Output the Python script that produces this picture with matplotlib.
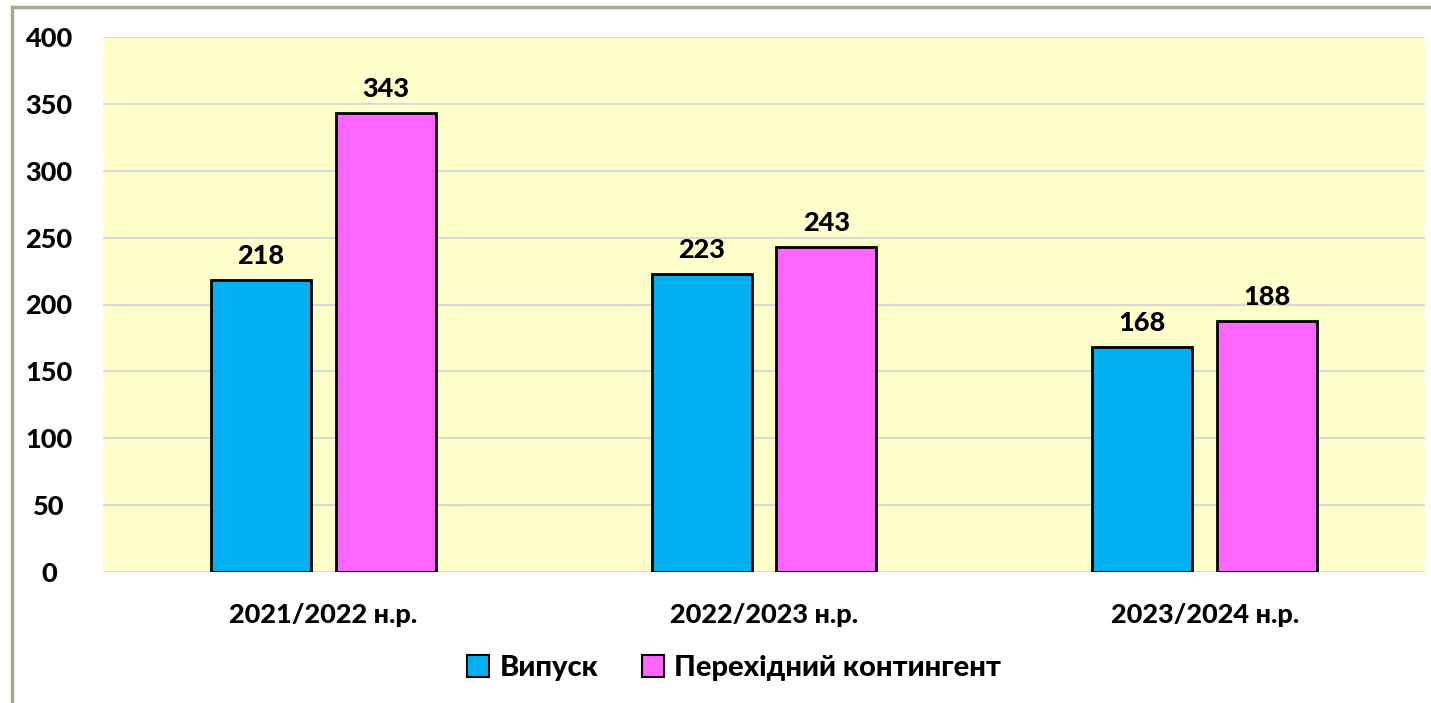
import numpy as np
import matplotlib.pyplot as plt
from matplotlib.patches import Patch
from matplotlib.lines import Line2D

categories = ['2021/2022 н.р.', '2022/2023 н.р.', '2023/2024 н.р.']
vypusk = [218, 223, 168]
perehidnyi = [343, 243, 188]
series_names = ['Випуск', 'Перехідний контингент']
yticks = [0, 50, 100, 150, 200, 250, 300, 350, 400]

plt.rcParams['font.family'] = ['Lato', 'DejaVu Sans']
FW = 'black'
FS = 19.5

W, H = 1431, 703
fig = plt.figure(figsize=(W / 100, H / 100), dpi=100)
ax = fig.add_axes([103 / W, 1 - 572 / H, 1322 / W, (572 - 37) / H])

x = np.arange(len(categories))
bw = 100 / 440.7
off = 62.5 / 440.7
b1 = ax.bar(x - off, vypusk, bw, color='#00B0F0', edgecolor='black', linewidth=2, zorder=3)
b2 = ax.bar(x + off, perehidnyi, bw, color='#FF66FF', edgecolor='black', linewidth=2, zorder=3)

for bars, vals in ((b1, vypusk), (b2, perehidnyi)):
    for r, v in zip(bars, vals):
        ax.text(r.get_x() + r.get_width() / 2, v + 9, str(v), ha='center', va='bottom',
                fontsize=FS, fontweight=FW)

ax.set_facecolor('#FFFFCC')
ax.set_xlim(-0.5, 2.5)
ax.set_ylim(0, 400)
ax.set_yticks(yticks)
ax.set_yticklabels([str(t) for t in yticks], fontsize=FS, fontweight=FW)
ax.set_xticks(x)
ax.set_xticklabels(categories, fontsize=FS, fontweight=FW)
ax.tick_params(length=0)
ax.tick_params(axis='y', pad=39)
ax.tick_params(axis='x', pad=22)
for lbl in ax.get_yticklabels():
    lbl.set_horizontalalignment('center')
ax.grid(axis='y', color='#D9D9D9', linewidth=1.5, zorder=0)
for s in ax.spines.values():
    s.set_visible(False)
ax.axhline(0, color='#D9D9D9', linewidth=1.5, zorder=2)

handles = [Patch(facecolor='#00B0F0', edgecolor='black', linewidth=1.5),
           Patch(facecolor='#FF66FF', edgecolor='black', linewidth=1.5)]
fig.legend(handles, series_names, loc='center', bbox_to_anchor=(734 / W, 1 - 668 / H),
           ncol=2, frameon=False, prop={'size': 21, 'weight': FW},
           handlelength=0.75, handleheight=0.75, handletextpad=0.35, columnspacing=1.5)

# outer frame (only left and top edges fall inside the picture)
fig.add_artist(Line2D([11.5 / W, 11.5 / W], [0, 1 - 6.5 / H], color='#A9A98E', linewidth=2.5,
                      transform=fig.transFigure))
fig.add_artist(Line2D([11.5 / W, 1], [1 - 6.5 / H, 1 - 6.5 / H], color='#A9A98E', linewidth=2.5,
                      transform=fig.transFigure))

fig.savefig('out.png', dpi=100)
